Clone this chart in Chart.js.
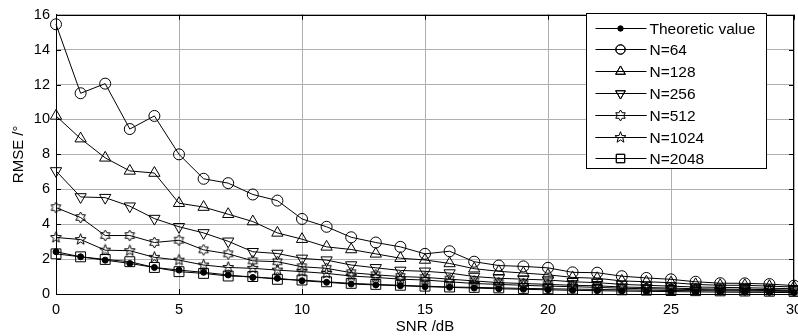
<!DOCTYPE html>
<html><head><meta charset="utf-8">
<script src="https://cdn.jsdelivr.net/npm/chart.js@4"></script>
<style>html,body{margin:0;padding:0;background:#fff;}</style>
</head><body>
<canvas id="c" width="798" height="336"></canvas>
<script>
const snr = [0,1,2,3,4,5,6,7,8,9,10,11,12,13,14,15,16,17,18,19,20,21,22,23,24,25,26,27,28,29,30];
const theoretic = [2.42,2.13,1.94,1.75,1.52,1.37,1.24,1.09,0.95,0.9,0.76,0.67,0.57,0.52,0.47,0.42,0.38,0.34,0.3,0.27,0.24,0.21,0.19,0.17,0.15,0.14,0.12,0.11,0.1,0.09,0.08];
const n64 = [15.45,11.5,12.05,9.45,10.2,8.0,6.6,6.35,5.7,5.35,4.3,3.85,3.25,2.95,2.7,2.3,2.45,1.85,1.63,1.58,1.5,1.24,1.22,1.02,0.92,0.84,0.7,0.62,0.61,0.57,0.48];
const n128 = [10.2,8.9,7.8,7.05,6.93,5.2,4.98,4.57,4.15,3.5,3.14,2.7,2.55,2.3,2.05,1.95,1.75,1.45,1.3,1.2,1.1,0.95,0.9,0.75,0.7,0.65,0.55,0.5,0.5,0.45,0.4];
const n256 = [7.05,5.56,5.52,5.03,4.32,3.85,3.5,3.02,2.42,2.32,2.04,1.94,1.66,1.5,1.35,1.3,1.2,1.0,0.9,0.85,0.8,0.7,0.65,0.55,0.5,0.45,0.4,0.38,0.36,0.33,0.3];
const n512 = [4.95,4.38,3.35,3.35,2.95,3.08,2.53,2.3,1.9,1.85,1.56,1.47,1.22,1.1,1.0,0.95,0.85,0.75,0.65,0.6,0.55,0.5,0.47,0.4,0.37,0.34,0.3,0.28,0.27,0.25,0.22];
const n1024 = [3.24,3.12,2.51,2.48,2.1,1.94,1.66,1.52,1.47,1.37,1.28,1.18,1.03,0.95,0.85,0.8,0.7,0.6,0.55,0.5,0.45,0.42,0.38,0.33,0.3,0.28,0.25,0.23,0.22,0.2,0.18];
const n2048 = [2.3,2.13,1.98,1.85,1.52,1.28,1.18,1.03,1.0,0.84,0.8,0.7,0.61,0.55,0.5,0.45,0.4,0.38,0.35,0.32,0.3,0.28,0.26,0.24,0.22,0.2,0.19,0.18,0.17,0.16,0.15];
const seriesLabels = ['Theoretic value','N=64','N=128','N=256','N=512','N=1024','N=2048'];
const xTitle = 'SNR /dB';
const yTitle = 'RMSE /\u00B0';

function starCanvas(points, outer, innerRatio) {
  const s = 15, c = document.createElement('canvas');
  c.width = s; c.height = s;
  const g = c.getContext('2d');
  g.strokeStyle = '#000'; g.lineWidth = 1;
  g.beginPath();
  for (let k = 0; k < points * 2; k++) {
    const r = k % 2 === 0 ? outer : outer * innerRatio;
    const a = -Math.PI / 2 + k * Math.PI / points;
    const px = s / 2 + r * Math.cos(a), py = s / 2 + r * Math.sin(a);
    if (k === 0) g.moveTo(px, py); else g.lineTo(px, py);
  }
  g.closePath(); g.stroke();
  return c;
}
const hexagram = starCanvas(6, 5.5, 0.58);
const pentagram = starCanvas(5, 5.8, 0.42);

const toPts = arr => snr.map((x, i) => ({x: x, y: arr[i]}));
const styles = [
  {pointStyle: 'circle', radius: 3, fill: '#000', rotation: 0},
  {pointStyle: 'circle', radius: 5.5, fill: 'transparent', rotation: 0},
  {pointStyle: 'triangle', radius: 6.5, fill: 'transparent', rotation: 0},
  {pointStyle: 'triangle', radius: 6.5, fill: 'transparent', rotation: 180},
  {pointStyle: hexagram, radius: 5, fill: 'transparent', rotation: 0},
  {pointStyle: pentagram, radius: 5, fill: 'transparent', rotation: 0},
  {pointStyle: 'rect', radius: 7, fill: 'transparent', rotation: 0}
];
const allSeries = [theoretic, n64, n128, n256, n512, n1024, n2048];
const datasets = allSeries.map((arr, i) => ({
  label: seriesLabels[i],
  data: toPts(arr),
  borderColor: '#000',
  borderWidth: 1,
  backgroundColor: styles[i].fill,
  pointStyle: styles[i].pointStyle,
  pointRadius: styles[i].radius,
  pointRotation: styles[i].rotation,
  pointBorderColor: '#000',
  pointBorderWidth: 1,
  pointBackgroundColor: styles[i].fill,
  tension: 0,
  clip: false
}));

const framePlugin = {
  id: 'frame',
  afterDatasetsDraw(chart) {
    const {ctx, chartArea: a, scales} = chart;
    ctx.save();
    ctx.strokeStyle = '#000'; ctx.lineWidth = 1;
    ctx.strokeRect(Math.round(a.left) + 0.5, Math.round(a.top) + 0.5, Math.round(a.right - a.left) - 1, Math.round(a.bottom - a.top));
    const tl = 5;
    ctx.beginPath();
    scales.x.ticks.forEach(t => {
      const px = Math.round(scales.x.getPixelForValue(t.value)) + 0.5;
      ctx.moveTo(px, a.bottom); ctx.lineTo(px, a.bottom - tl);
      ctx.moveTo(px, a.top); ctx.lineTo(px, a.top + tl);
    });
    scales.y.ticks.forEach(t => {
      const py = Math.round(scales.y.getPixelForValue(t.value)) + 0.5;
      ctx.moveTo(a.left, py); ctx.lineTo(a.left + tl, py);
      ctx.moveTo(a.right, py); ctx.lineTo(a.right - tl, py);
    });
    ctx.stroke();
    // legend
    const bx = Math.round(a.right) - 207.5, by = Math.round(a.top) - 1.5, bw = 180, bh = 155;
    ctx.fillStyle = '#fff';
    ctx.fillRect(bx, by, bw, bh);
    ctx.strokeRect(bx, by, bw, bh);
    ctx.font = '15.5px "Liberation Sans", Arial, sans-serif';
    ctx.textBaseline = 'middle';
    chart.data.datasets.forEach((ds, i) => {
      const y = Math.round(by + 14 + i * 21.8) + 0.5;
      ctx.beginPath();
      ctx.moveTo(bx + 9, y); ctx.lineTo(bx + 60, y);
      ctx.strokeStyle = '#000'; ctx.lineWidth = 1; ctx.stroke();
      ctx.fillStyle = ds.pointBackgroundColor;
      Chart.helpers.drawPoint(ctx, {pointStyle: ds.pointStyle, radius: ds.pointRadius * 0.85, rotation: ds.pointRotation, borderWidth: 1}, bx + 34, y);
      if (ds.pointBackgroundColor !== 'transparent') ctx.fill();
      ctx.stroke();
      ctx.fillStyle = '#000';
      ctx.fillText(ds.label, bx + 63, y + 1);
    });
    ctx.restore();
  }
};

const tickFont = {family: '"Liberation Sans", Arial, sans-serif', size: 14.5};
const titleFont = {family: '"Liberation Sans", Arial, sans-serif', size: 15};
new Chart(document.getElementById('c'), {
  type: 'line',
  data: {datasets: datasets},
  options: {
    responsive: false,
    animation: false,
    layout: {autoPadding: false, padding: {top: 14, right: 4, left: 0, bottom: 0}},
    plugins: {legend: {display: false}, tooltip: {enabled: false}},
    scales: {
      x: {
        type: 'linear', min: 0, max: 30,
        ticks: {stepSize: 5, color: '#000', font: tickFont, padding: 7, maxRotation: 0},
        grid: {color: '#b0b0b0', lineWidth: 1, drawTicks: false},
        border: {color: '#000'},
        title: {display: true, text: xTitle, color: '#000', font: titleFont, padding: {top: 0, bottom: 0}},
        afterFit(s) { s.height = 42; s.paddingRight = 0; s.paddingLeft = 0; }
      },
      y: {
        min: 0, max: 16,
        ticks: {stepSize: 2, color: '#000', font: tickFont, padding: 6},
        grid: {color: '#b0b0b0', lineWidth: 1, drawTicks: false},
        border: {color: '#000'},
        title: {display: true, text: yTitle, color: '#000', font: titleFont, padding: {top: 10, bottom: 0}},
        afterFit(s) { s.width = 56; }
      }
    }
  },
  plugins: [framePlugin]
});
</script>
</body></html>
